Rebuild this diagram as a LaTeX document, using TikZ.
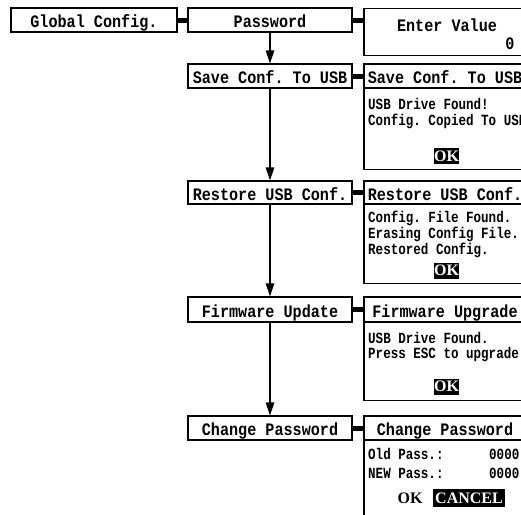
\documentclass[tikz,border=0pt]{standalone}
\usepackage{fontspec}
\usetikzlibrary{arrows.meta}
\newfontfamily\hdfont[FakeStretch=0.865]{Liberation Mono}
\newfontfamily\bdfont[FakeStretch=0.81]{Liberation Mono}
\newfontfamily\btnfont{Liberation Serif}
\frenchspacing
\begin{document}
\frenchspacing
\begin{tikzpicture}[x=1pt,y=-1pt,
  box/.style={draw, line width=1.3pt, inner sep=0pt, text height=15.5pt, text depth=0pt,
    font=\hdfont\bfseries\fontsize{17.5}{17.5}\selectfont},
  lbox/.style={box, minimum width=164pt},
  rbox/.style={box, minimum width=162pt},
  bodybox/.style={draw, line width=1.3pt, minimum width=162pt, inner sep=0pt, anchor=north},
  bodytxt/.style={anchor=base west, inner sep=0pt, font=\bdfont\bfseries\fontsize{15.5}{15.5}\selectfont},
  hdtxt/.style={inner sep=0pt, font=\hdfont\bfseries\fontsize{17.5}{17.5}\selectfont},
  okbtn/.style={fill=black, text=white, inner sep=0pt, minimum width=23pt, minimum height=16pt,
    font=\btnfont\bfseries\fontsize{16}{16}\selectfont},
  conn/.style={line width=5pt},
  arr/.style={line width=1.4pt, -{Triangle[length=13pt,width=8.5pt]}}
]
\useasboundingbox (0,0) rectangle (521,514);
\clip (0,0) rectangle (521,514);
% left column
\node[box, minimum width=166pt, minimum height=24pt] (gc) at (94,20) {Global Config.};
\node[lbox, minimum height=24pt] (pw) at (270,20) {Password};
\node[lbox, minimum height=24pt] (sv) at (270,76) {Save Conf. To USB};
\node[lbox, minimum height=23pt] (rs) at (270,192.5) {Restore USB Conf.};
\node[lbox, minimum height=25pt] (fw) at (270,309.5) {Firmware Update};
\node[lbox, minimum height=24pt] (cp) at (270,428) {Change Password};
% arrows
\draw[arr] (pw) -- (sv);
\draw[arr] (sv) -- (rs);
\draw[arr] (rs) -- (fw);
\draw[arr] (fw) -- (cp);
% enter value
\node[bodybox, minimum height=47pt] (ev) at (445,8) {};
\node[hdtxt] (evt) at (447,25) {Enter Value};
\node[hdtxt] (ev0) at (510,44) {0};
\draw[conn] (gc.east) -- (pw.west);
\draw[conn] (pw.east) -- (ev.west |- pw.east);
% save
\node[rbox, minimum height=24pt] (svh) at (445,76) {Save Conf. To USB};
\node[bodybox, minimum height=81pt] (svb) at (445,88) {};
\node[bodytxt] (sv1) at (368,109) {USB Drive Found!};
\node[bodytxt] (sv2) at (368,125) {Config. Copied To USB};
\node[okbtn] (svok) at (446.5,156) {OK};
\draw[conn] (sv.east) -- (svh.west);
% restore
\node[rbox, minimum height=23pt] (rsh) at (445,192.5) {Restore USB Conf.};
\node[bodybox, minimum height=79pt] (rsb) at (445,204) {};
\node[bodytxt] (rs1) at (368,222) {Config. File Found.};
\node[bodytxt] (rs2) at (368,238) {Erasing Config File...};
\node[bodytxt] (rs3) at (368,254) {Restored Config.};
\node[okbtn] (rsok) at (446.5,270.5) {OK};
\draw[conn] (rs.east) -- (rsh.west);
% firmware
\node[rbox, minimum height=25pt] (fwh) at (445,309.5) {Firmware Upgrade};
\node[bodybox, minimum height=78pt] (fwb) at (445,322) {};
\node[bodytxt] (fw1) at (368,343) {USB Drive Found.};
\node[bodytxt] (fw2) at (368,358) {Press ESC to upgrade};
\node[okbtn] (fwok) at (446.5,386.5) {OK};
\draw[conn] (fw.east) -- (fwh.west);
% change password
\node[rbox, minimum height=24pt] (cph) at (445,428) {Change Password};
\node[bodybox, minimum height=100pt] (cpb) at (445,440) {};
\node[bodytxt] (cp1) at (368,459) {Old Pass.:};
\node[bodytxt] (cp1v) at (489,459) {0000};
\node[bodytxt] (cp2) at (368,478) {NEW Pass.:};
\node[bodytxt] (cp2v) at (489,478) {0000};
\node[inner sep=0pt, font=\btnfont\bfseries\fontsize{16}{16}\selectfont] (cpok) at (410,498) {OK};
\node[okbtn, minimum width=72pt, minimum height=18pt] (cpcn) at (469,498) {CANCEL};
\draw[conn] (cp.east) -- (cph.west);
\end{tikzpicture}
\end{document}
